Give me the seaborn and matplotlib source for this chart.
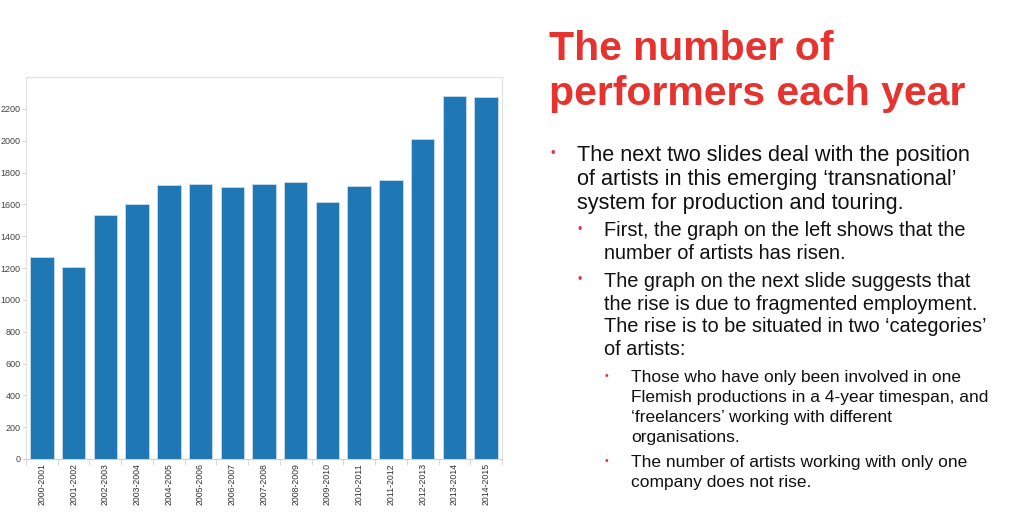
import numpy as np
import pandas as pd
import seaborn as sns
import matplotlib.pyplot as plt

# seasons and number of performers
seasons = ['2000-2001', '2001-2002', '2002-2003', '2003-2004', '2004-2005',
           '2005-2006', '2006-2007', '2007-2008', '2008-2009', '2009-2010',
           '2010-2011', '2011-2012', '2012-2013', '2013-2014', '2014-2015']
performers = [1271, 1205, 1532, 1600, 1720, 1726, 1707, 1726, 1740, 1616,
              1716, 1752, 2011, 2282, 2272]
y_ticks = list(range(0, 2201, 200))

title_lines = ['The number of', 'performers each year']
# (indent level, lines of the bullet)
bullets = [
    (1, ['The next two slides deal with the position',
         'of artists in this emerging \u2018transnational\u2019',
         'system for production and touring.']),
    (2, ['First, the graph on the left shows that the',
         'number of artists has risen.']),
    (2, ['The graph on the next slide suggests that',
         'the rise is due to fragmented employment.',
         'The rise is to be situated in two \u2018categories\u2019',
         'of artists:']),
    (3, ['Those who have only been involved in one',
         'Flemish productions in a 4-year timespan, and',
         '\u2018freelancers\u2019 working with different',
         'organisations.']),
    (3, ['The number of artists working with only one',
         'company does not rise.']),
]

W, H = 1024, 522
RED = '#e63330'

sns.set_style('white')
plt.rcParams['font.family'] = ['Liberation Sans', 'DejaVu Sans']

fig = plt.figure(figsize=(W / 100, H / 100), dpi=100)
ax = fig.add_axes([26 / W, 1 - 459 / H, (502 - 26) / W, (459 - 77) / H])

df = pd.DataFrame({'season': seasons, 'performers': performers})
sns.barplot(data=df, x='season', y='performers', color='#1f77b4', saturation=1,
            width=0.74, edgecolor='#c9dcec', linewidth=0.6, ax=ax)

ax.set_xlim(-0.5, len(seasons) - 0.5)
ax.set_ylim(0, 2400)
ax.set_yticks(y_ticks)
ax.set_xlabel('')
ax.set_ylabel('')
ax.tick_params(axis='y', labelsize=6.5, labelcolor='#444444', length=3,
               color='#d0d0d0', width=0.6, pad=1, left=True)
ax.tick_params(axis='x', labelsize=6.3, labelcolor='#333333', length=0,
               pad=3, labelrotation=90)
ax.set_xticks(np.arange(-0.5, len(seasons)), minor=True)
ax.tick_params(axis='x', which='minor', length=4, color='#d0d0d0', width=0.6,
               bottom=True)
for side, sp in ax.spines.items():
    sp.set_color('#e2e2e2')
    sp.set_linewidth(0.8)
ax.spines['bottom'].set_color('#d0d0d0')


def fx(px):
    return px / W


def fy(py):
    return 1 - py / H


# title
for line, base in zip(title_lines, [60, 105]):
    fig.text(fx(549), fy(base), line, color=RED, fontsize=29.5,
             fontweight='bold', va='baseline', ha='left')

# bullet text
levels = {1: (552.5, 577, 15.6, 24.2), 2: (579.3, 604, 14.4, 22.8),
          3: (606, 631, 12.5, 20.0)}
first_baselines = [161, 236.5, 286.7, 382, 467]
for (lvl, lines), base in zip(bullets, first_baselines):
    bx, tx, size, step = levels[lvl]
    fig.text(fx(bx), fy(base - size * 0.45), '\u2022', color=RED,
             fontsize=size * 0.6, ha='center', va='center')
    for i, line in enumerate(lines):
        fig.text(fx(tx), fy(base + i * step), line, color='#111111',
                 fontsize=size, va='baseline', ha='left')

plt.savefig('out.png', dpi=100)
